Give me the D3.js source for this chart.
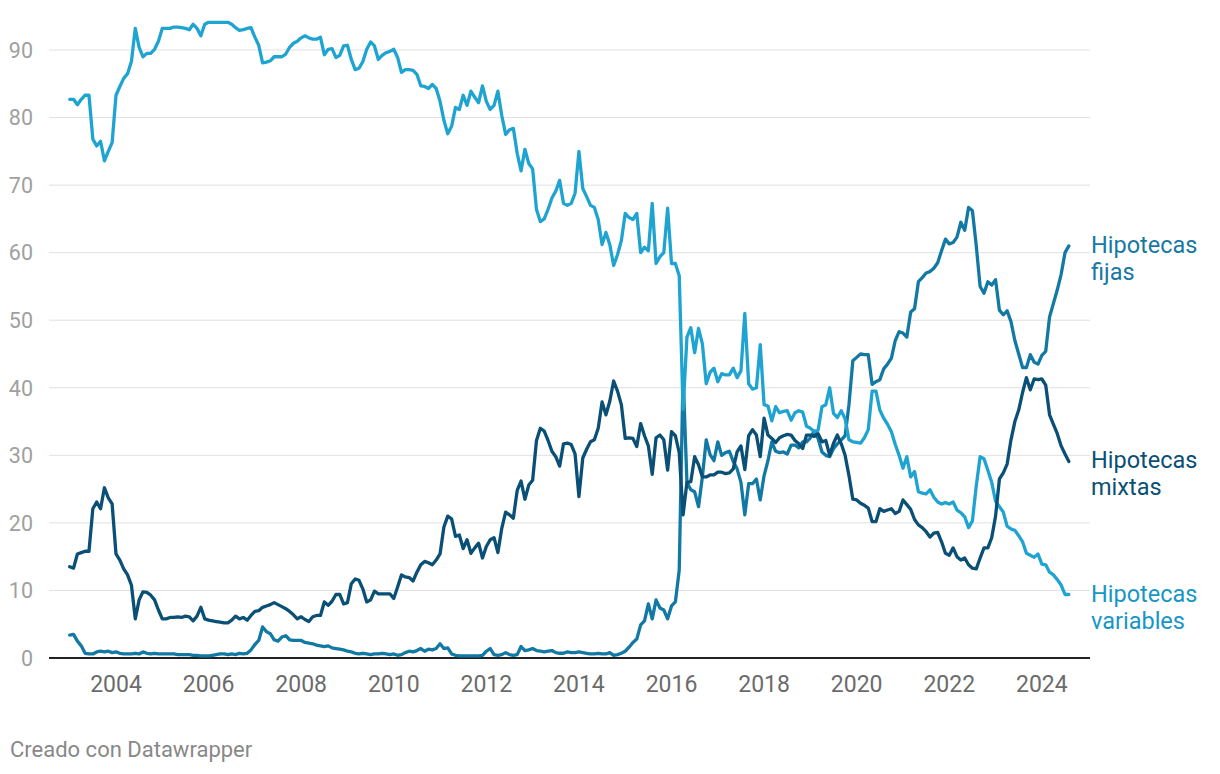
<!DOCTYPE html>
<html><head><meta charset="utf-8">
<script src="https://cdn.jsdelivr.net/npm/d3@7"></script>
<style>
body{margin:0;background:#fff;}
svg{display:block;font-family:Roboto, "Noto Sans", sans-serif;}
</style></head><body>
<svg id="chart" width="1220" height="774"></svg>
<script>
// Monthly series, first value = January 2003
const startYear = 2003;
const variables = [
82.7,82.7,81.9,82.7,83.3,83.3,76.8,75.8,76.5,73.6,
75.0,76.3,83.3,84.6,85.8,86.5,88.3,93.2,90.4,89.0,
89.5,89.5,90.1,91.3,93.2,93.2,93.2,93.4,93.4,93.3,
93.2,93.0,93.8,93.2,92.1,93.8,94.1,94.1,94.1,94.1,
94.1,94.1,93.8,93.3,92.9,93.0,93.2,93.3,91.9,90.7,
88.1,88.2,88.4,89.0,89.0,89.0,89.4,90.4,91.0,91.3,
91.8,92.1,91.8,91.6,91.6,91.9,89.3,90.1,90.2,88.9,
89.2,90.6,90.7,88.6,87.1,87.3,88.3,90.1,91.2,90.6,
88.6,89.2,89.6,89.8,90.1,88.9,86.7,87.1,87.1,87.0,
86.4,84.7,84.6,84.3,84.9,84.3,82.4,79.6,77.6,78.7,
81.5,81.2,83.3,81.8,83.9,83.0,82.2,84.7,82.4,81.2,
81.8,83.9,80.3,77.5,78.2,78.4,74.7,72.1,75.3,73.2,
72.4,66.4,64.6,65.0,66.4,68.1,69.1,70.7,67.3,67.0,
67.3,68.8,75.0,69.5,68.3,67.0,66.7,64.9,61.2,63.0,
61.2,58.1,59.7,61.8,65.8,65.2,64.9,65.8,60.0,60.8,
60.3,67.3,58.4,59.4,60.0,66.6,58.4,58.4,56.6,36.8,
47.5,48.9,45.2,48.8,46.5,40.6,42.3,42.9,40.9,42.1,
41.9,41.9,42.9,41.5,42.5,51.0,40.6,39.8,40.0,46.4,
37.5,37.3,35.1,37.2,36.3,36.5,36.6,35.2,36.3,36.6,
36.4,34.3,34.0,33.5,33.7,37.2,37.5,40.0,36.2,35.6,
36.6,35.4,32.3,32.0,31.9,31.8,32.6,33.8,39.5,39.5,
36.7,35.5,34.6,33.5,31.6,30.0,28.1,29.8,26.8,27.6,
24.6,24.4,24.3,24.9,23.8,23.1,22.8,23.0,22.8,23.1,
21.9,21.5,20.9,19.3,20.3,25.5,29.8,29.5,27.8,26.0,
23.2,22.4,21.6,19.5,19.1,18.9,18.1,17.2,15.5,15.2,
14.9,15.4,13.9,13.8,12.7,12.3,11.6,10.8,9.4,9.4];
const mixtas = [
13.5,13.3,15.4,15.6,15.8,15.8,22.1,23.1,22.1,25.2,
23.7,22.8,15.4,14.5,13.2,12.3,10.8,5.8,8.6,9.8,
9.7,9.3,8.6,7.1,5.8,5.8,6.0,6.0,6.1,6.0,
6.2,6.1,5.5,6.2,7.5,5.8,5.6,5.5,5.4,5.3,
5.2,5.2,5.6,6.2,5.8,6.0,5.6,6.3,6.9,7.0,
7.5,7.7,7.9,8.2,7.9,7.6,7.3,6.9,6.4,5.8,
6.1,5.7,5.4,6.1,6.3,6.3,8.3,7.8,8.4,9.4,
9.4,8.0,8.2,11.0,11.7,11.5,10.2,8.3,8.6,9.9,
9.5,9.5,9.5,9.5,8.8,10.5,12.3,12.0,11.9,11.4,
12.7,13.8,14.3,14.1,13.8,14.5,15.4,19.4,21.0,20.6,
18.0,18.2,16.2,17.5,15.5,16.3,17.0,14.8,16.5,17.5,
17.8,15.6,19.2,21.6,21.2,20.7,24.8,26.2,23.5,25.6,
26.3,32.2,34.0,33.6,32.2,30.6,29.8,28.4,31.7,31.8,
31.6,30.2,23.9,29.6,30.9,32.0,32.3,34.0,37.9,36.0,
38.0,41.0,39.5,37.5,32.5,32.6,32.5,31.3,34.7,32.9,
31.4,27.2,32.6,33.0,32.3,27.8,33.5,32.9,30.4,21.2,
26.0,26.1,29.8,28.6,26.8,26.8,27.1,27.1,27.5,27.5,
27.3,27.4,28.0,30.5,31.4,27.9,32.9,33.8,33.0,29.8,
35.5,33.0,32.5,31.9,32.6,32.9,33.1,33.0,32.2,31.7,
31.0,33.0,33.0,32.8,33.2,32.0,32.2,30.0,31.8,33.0,
31.7,30.0,27.0,23.5,23.4,22.9,22.6,22.2,20.2,20.2,
22.1,21.7,21.9,22.1,21.4,21.7,23.4,22.7,22.0,20.5,
19.7,19.3,18.7,17.9,18.5,18.6,17.2,15.5,15.2,16.3,
15.0,14.5,14.8,13.8,13.3,13.2,14.8,16.3,16.3,17.8,
21.0,26.5,27.4,28.7,32.3,35.0,36.7,39.3,41.5,39.7,
41.3,41.2,41.3,40.4,36.0,34.6,33.2,31.4,30.2,29.1];
const fijas = [
3.4,3.5,2.5,1.8,0.7,0.6,0.6,0.9,1.0,0.9,
1.0,0.8,0.9,0.7,0.6,0.6,0.6,0.7,0.6,0.9,
0.7,0.6,0.7,0.6,0.6,0.6,0.6,0.6,0.5,0.5,
0.5,0.5,0.4,0.4,0.3,0.3,0.3,0.4,0.5,0.6,
0.6,0.5,0.6,0.5,0.7,0.6,0.7,1.2,2.0,2.6,
4.6,3.9,3.6,2.7,2.5,3.1,3.3,2.7,2.6,2.6,
2.6,2.3,2.2,2.1,1.9,1.8,1.7,1.8,1.5,1.4,
1.3,1.2,1.0,0.9,0.7,0.6,0.7,0.6,0.5,0.6,
0.6,0.7,0.6,0.5,0.6,0.4,0.5,0.8,1.0,0.9,
1.1,1.4,1.0,1.3,1.2,1.4,2.1,1.4,1.5,0.6,
0.4,0.3,0.3,0.3,0.3,0.3,0.3,0.4,1.0,1.4,
0.5,0.4,0.5,0.8,0.5,0.4,0.5,1.7,1.1,1.2,
1.4,1.1,1.0,0.9,1.0,1.1,0.8,0.7,0.7,0.9,
0.8,0.8,0.9,0.8,0.7,0.6,0.6,0.7,0.6,0.6,
0.8,0.4,0.5,0.7,1.0,1.6,2.3,2.8,4.9,5.5,
8.0,5.8,8.6,7.4,7.1,5.8,7.7,8.3,13.0,42.0,
26.0,24.9,24.6,22.4,26.8,32.3,30.1,29.2,32.0,30.0,
30.4,30.6,29.1,28.0,26.0,21.2,25.8,25.8,26.5,23.4,
27.0,29.2,32.0,30.6,30.4,30.5,30.2,31.5,31.5,31.1,
32.0,32.0,32.6,33.6,32.5,30.5,30.0,29.8,31.0,31.7,
32.3,32.9,37.5,44.0,44.5,45.0,44.9,44.9,40.5,40.9,
41.2,42.8,43.5,44.4,47.0,48.3,48.1,47.5,51.2,51.7,
55.7,56.3,57.0,57.2,57.7,58.5,60.3,62.0,61.3,61.5,
62.3,64.5,63.3,66.7,66.2,61.0,55.0,54.0,55.7,55.2,
56.0,51.5,50.8,51.4,49.8,47.0,45.0,43.0,43.0,44.9,
43.8,43.5,44.8,45.4,50.5,52.5,54.5,56.8,60.0,61.0];

const yTicks = [0,10,20,30,40,50,60,70,80,90];
const xTicks = [2004,2006,2008,2010,2012,2014,2016,2018,2020,2022,2024];
const labels = [["Hipotecas","fijas"],["Hipotecas","mixtas"],["Hipotecas","variables"]];
const footer = "Creado con Datawrapper";

const colors = {fijas:"#1279a4", mixtas:"#0a4f76", variables:"#1fa4d1"};
const labelColors = {fijas:"#1779a3", mixtas:"#0b4f75", variables:"#1796c6"};

const svg = d3.select("#chart");
const x = d3.scaleLinear().domain([2002.553, 2025.04]).range([49, 1090]);
const y = d3.scaleLinear().domain([0, 90]).range([658, 50]);

// grid
svg.append("g").selectAll("line").data(yTicks.filter(d=>d>0)).join("line")
  .attr("x1", 49).attr("x2", 1090)
  .attr("y1", d=>y(d)).attr("y2", d=>y(d))
  .attr("stroke", "#e1e1e1").attr("stroke-width", 1);

// y labels
svg.append("g").selectAll("text").data(yTicks).join("text")
  .attr("x", 33).attr("y", d=>y(d)).attr("dy","0.36em")
  .attr("text-anchor","end").attr("fill","#a0a0a0")
  .attr("font-size", 21.5).text(d=>d);

// x labels
svg.append("g").selectAll("text").data(xTicks).join("text")
  .attr("x", d=>x(d)).attr("y", 692)
  .attr("text-anchor","middle").attr("fill","#6b6b6b")
  .attr("font-size", 23).text(d=>d);

const toPts = arr => arr.map((v,i)=>({t: startYear + i/12, v}));
const line = d3.line().x(d=>x(d.t)).y(d=>y(d.v));

const series = [
  {key:"fijas", data: toPts(fijas), label: labels[0]},
  {key:"mixtas", data: toPts(mixtas), label: labels[1]},
  {key:"variables", data: toPts(variables), label: labels[2]}
];

// baseline
svg.append("line").attr("x1",49).attr("x2",1090).attr("y1",y(0)).attr("y2",y(0))
  .attr("stroke","#222").attr("stroke-width",2);

svg.append("g").selectAll("path").data([series[0], series[2], series[1]]).join("path")
  .attr("d", d=>line(d.data))
  .attr("fill","none").attr("stroke", d=>colors[d.key])
  .attr("stroke-width", 3.3).attr("stroke-linejoin","round").attr("stroke-linecap","round");

// end labels
series.forEach(s=>{
  const last = s.data[s.data.length-1];
  const t = svg.append("text").attr("x", 1091).attr("y", y(last.v))
    .attr("fill", labelColors[s.key]).attr("font-size", 23.5);
  s.label.forEach((w,i)=>{
    t.append("tspan").attr("x",1091).attr("dy", i===0 ? "0.3em" : "1.15em").text(w);
  });
});

svg.append("text").attr("x",10).attr("y",757).attr("fill","#888888")
  .attr("font-size",22).text(footer);
</script>
</body></html>
